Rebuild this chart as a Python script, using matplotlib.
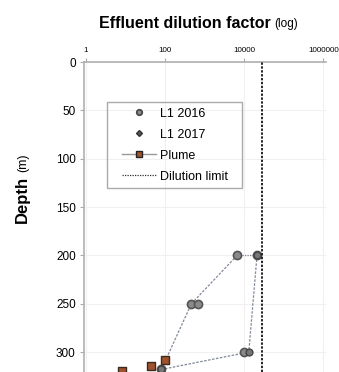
import numpy as np
import matplotlib.pyplot as plt
from matplotlib.lines import Line2D
from matplotlib.patches import Rectangle

# depth profiles
l1_2016_dil = [6600, 460, 80]
l1_2016_depth = [200, 250, 318]
l1_2016_extra_dil = [21000, 660, 10000]
l1_2016_extra_depth = [200, 250, 300]

l1_2017_dil = [21000, 13000, 80]
l1_2017_depth = [200, 300, 318]

plume_dil = [100, 45, 8]
plume_depth = [308, 314, 320]

dilution_limit = 28000
x_ticks = [1, 100, 10000, 1000000]
x_tick_labels = ['1', '100', '10000', '1000000']
y_ticks = [0, 50, 100, 150, 200, 250, 300]

plt.rcParams['font.family'] = ['Liberation Sans', 'DejaVu Sans']

fig = plt.figure(figsize=(3.39, 3.72), dpi=100)
ax = fig.add_axes([0.248, 0.0, 0.713, 0.833])

line_col = '#7f8799'
ax.plot(l1_2016_dil, l1_2016_depth, ls=(0, (2, 1.2)), color=line_col, lw=0.9, zorder=2)
ax.plot(l1_2017_dil, l1_2017_depth, ls=(0, (2, 1.2)), color=line_col, lw=0.9, zorder=2)
ax.plot([l1_2016_dil[0], l1_2017_dil[0]], [200, 200], ls=(0, (1, 1)), color=line_col, lw=0.9, zorder=2)

ax.scatter(l1_2016_dil + l1_2016_extra_dil, l1_2016_depth + l1_2016_extra_depth,
           s=34, marker='o', facecolor='#8a8a8a', edgecolor='#555555', lw=1.2, zorder=3)
ax.scatter(l1_2017_dil, l1_2017_depth, s=24, marker='o', facecolor='#777777',
           edgecolor='#444444', lw=1.0, zorder=3)
ax.scatter(plume_dil, plume_depth, s=26, marker='s', facecolor='#a0522d',
           edgecolor='#3a2a20', lw=1.0, zorder=4)

ax.axvline(dilution_limit, color='#222222', ls=(0, (1.2, 0.8)), lw=1.4, zorder=3)

ax.set_xscale('log')
ax.set_xlim(0.89, 1.15e6)
ax.set_ylim(320.6, 0)
ax.xaxis.tick_top()
ax.set_xticks(x_ticks)
ax.set_xticklabels(x_tick_labels)
ax.minorticks_off()
ax.set_yticks(y_ticks)
ax.tick_params(axis='x', labelsize=5.8, length=3, color='#aaaaaa', pad=3)
ax.tick_params(axis='y', labelsize=8.5, length=3, color='#aaaaaa', pad=3)

for side in ['right', 'bottom']:
    ax.spines[side].set_visible(False)
for side in ['left', 'top']:
    ax.spines[side].set_color('#b0b0b0')
    ax.spines[side].set_linewidth(1.2)

ax.grid(True, color='#f0f0f0', lw=0.8)
ax.set_axisbelow(True)

handles = [
    Line2D([], [], ls='', marker='o', ms=4, mfc='#8a8a8a', mec='#444444', mew=1.2),
    Line2D([], [], ls='', marker='D', ms=3, mfc='#555555', mec='#333333'),
    Line2D([], [], ls='-', color='#999999', lw=1.0, marker='s', ms=4, mfc='#a0522d', mec='#222222'),
    Line2D([], [], ls=(0, (1, 1)), color='#333333', lw=0.9),
]
leg = ax.legend(handles, ['L1 2016', 'L1 2017', 'Plume', 'Dilution limit'],
                loc='upper left', bbox_to_anchor=(0.157, 0.853), fontsize=9,
                frameon=False, handlelength=2.75, labelspacing=0.72,
                borderpad=0, borderaxespad=0, handletextpad=0.25)
# legend box (wider than the content, as in the original)
fig.patches.append(Rectangle((107 / 339, 1 - 188 / 372), 135 / 339, 86 / 372,
                             transform=fig.transFigure, fill=False,
                             edgecolor='#aaaaaa', lw=1.0, zorder=5))

fig.text(0.8, 0.938, 'Effluent dilution factor', fontsize=11.5, fontweight='bold', ha='right', va='center')
fig.text(0.81, 0.936, '(log)', fontsize=8.5, ha='left', va='center')
fig.text(0.078, 0.40, 'Depth', fontsize=12, fontweight='bold', rotation=90,
         rotation_mode='anchor', ha='left', va='baseline')
fig.text(0.078, 0.538, '(m)', fontsize=9, rotation=90,
         rotation_mode='anchor', ha='left', va='baseline')

fig.savefig('out.png', dpi=100)
